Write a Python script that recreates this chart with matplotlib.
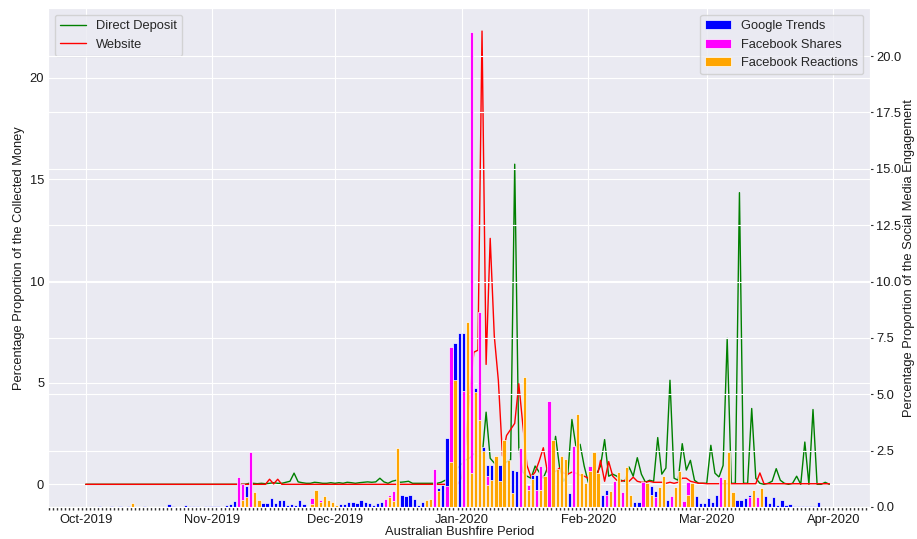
import matplotlib
matplotlib.use("Agg")
import numpy as np
import pandas as pd
import seaborn as sns
import matplotlib.pyplot as plt
import matplotlib.dates as mdates

sns.set_style("darkgrid")
plt.rcParams["font.family"] = ["Liberation Sans", "DejaVu Sans"]

# one value per day, 1 Oct 2019 .. 31 Mar 2020 (one line per month)
dates = pd.date_range("2019-10-01", "2020-03-31", freq="D")

direct_deposit = (
    [0] * 31 +
    [0, 0, 0, 0, 0, 0, 0, 0, 0, .05, .05, .03, .05, .03, .05, .08, .05, .05, .10, .15,
     .55, .12, .08, .05, .05, .10, .08, .05, .05, .08] +
    [.05, .08, .05, .10, .08, .05, .08, .10, .12, .10, .12, .30, .12, .05, .15, .20,
     .10, .12, .15, .05, .05, .05, .05, .05, .05, .05, .10, .20, .30, .50, .80] +
    [1.0, 1.2, 1.3, 1.5, 1.4, 1.3, 3.55, 1.28, 1.05, .80, .90, 1.10, 1.20, 15.75, 1.80,
     .60, .40, .30, .90, .60, .30, .80, .80, 2.36, .80, .15, .50, 3.19, 1.84, 1.97, .90] +
    [.10, .60, .50, .90, 2.20, .40, .50, .40, .20, .15, .85, .40, 1.31, .50, .10, .20,
     .15, 2.30, .50, .80, 5.12, .30, .20, 2.00, .70, 1.18, .20, .05, .05] +
    [.05, 1.92, .55, .36, .93, 7.18, .05, .05, 14.35, .05, .05, 3.73, .30, .05, 0, .05,
     .15, .77, .20, .05, 0, .05, .40, 0, 2.08, 0, 3.68, 0, 0, .10, 0]
)

website = (
    [0] * 31 +
    [0] * 14 + [.25, .02, .25] + [0] * 13 +
    [0] * 31 +
    [.30, 2.00, 4.50, 6.50, 6.60, 22.30, 5.90, 12.10, 7.30, 5.10, 1.40, 2.40, 2.70, 3.00,
     4.95, 2.90, .93, .35, .60, 1.15, 1.80, .60, .50, .64, .80, .55, .50, .60, .55, .45, .40] +
    [.30, .25, .20, 1.18, .15, 1.12, .40, .20, .15, .20, .15, .35, .15, .10, .10, .15,
     .10, .10, .10, .05, .10, .05, .10, .30, .30, .15, .10, .05, .05] +
    [.03] * 13 + [.56] + [.03] * 17
)

google_trends = (
    [0, 0, 0, .05, 0, 0, .05, 0, .05, 0, .05, 0, 0, 0, .05, 0, 0, 0, 0, 0, .12, .06, 0,
     0, .10, .05, .06, .05, 0, .05, .05] +
    [.05, .05, 0, .08, .15, .25, 0, 0, .95, 0, 0, 0, .18, .18, .40, .18, .33, .33, .10,
     .12, .10, .33, .15, 0, 0, 0, 0, 0, 0, 0] +
    [0, .12, .12, .24, .24, .18, .33, .24, .18, .10, .18, .24, 0, 0, 0, 0, .55, .47, .55,
     .37, .10, .24, .16, 0, 0, .86, .96, 3.05, 0, 7.26, 7.70] +
    [7.70, 0, 0, 5.28, 0, 2.64, 1.88, 1.88, 0, 1.88, 0, 0, 1.65, 1.58, 0, 0, 0, 1.40,
     1.40, 0, 0, 0, 0, 0, 0, 0, .62, 0, 0, 0, 0] +
    [0, 0, 0, .55, .74, 0, 0, 0, 0, 0, 0, .22, .22, 0, 0, .94, .72, 0, 0, .30, 0, 0, 0,
     .22, 0, 0, .50, .17, .17] +
    [.39, .24, .53, 0, 0, 0, 0, .30, .30, .39, .53, 0, 0, 0, .50, .17, .44, .10, .30,
     .08, .14, .06, .06, .04, .04, .04, .04, .24, 0, 0, 0]
)

facebook_shares = (
    [0] * 31 +
    [0, 0, 0, 0, 0, 0, 1.32, 1.03, 0, 2.46] + [0] * 10 +
    [0, 0, 0, 0, .40, 0, .32, 0, 0, 0] +
    [0] * 10 + [0, 0, .35, .55, .73, 0, 0, 0, 0, 0] +
    [0, 0, .05, 0, 1.67, 0, 0, .93, 7.10, 0, 0] +
    [5.14, 0, 21.06, 0, 8.66, 0, 1.36, 0, 0, 0, 0, 0, 0, 0, 2.62, 0, .99, 0, .77, 1.83,
     0, 4.68, 0, 0, 0, 0, 0, 2.69, 0, 0, 0] +
    [1.80, 0, 0, 0, .55, 0, 1.14, 0, .65, 0, 0, 0, 0, 1.09, 0, 0, .43, 0, 0, 0, .47, 0,
     0, .25, 1.09, 0, 0, 0, 0] +
    [0, 0, 0, 1.32, 0, 0, 0, 0, 0, 0, .44, 0, .46] + [0] * 18
)

facebook_reactions = (
    [0] * 11 + [.16] + [0] * 19 +
    [0, 0, 0, 0, 0, 0, 0, .32, .43, 0, .68, .30, 0, 0, 0, 0, 0, 0, 0, 0,
     0, 0, 0, 0, .15, .75, .20, .50, .30, .22] +
    [.10, 0, 0, 0, 0, 0, 0, 0, 0, 0, 0, 0, 0, .45, .27, 2.63, 0, 0, 0, 0,
     0, 0, .30, .34, 0, .71, 0, 0, 2.00, 5.63, 0] +
    [0, 8.20, 1.52, 5.08, 3.87, 2.47, .99, 1.21, 2.27, 1.14, 2.95, 2.10, .62, 0, 0,
     5.77, .77, 1.24, 0, .77, 1.39, 0, 2.98, 1.68, 2.27, 2.12, 0, 0, 4.14, 1.50, 1.05] +
    [1.58, 2.44, 1.50, 0, 0, .69, 0, 1.53, 0, 1.76, .53, 0, 0, 0, 1.07, .55, 0, .89,
     1.39, 0, 0, .89, 1.58, 0, .55, 1.06, 0, 0, 0] +
    [0, 0, 0, 0, 1.26, 2.43, .65, 0, 0, 0, 0, .74, 0, .84] + [0] * 17
)

fig = plt.figure(figsize=(9.17, 5.39), dpi=100)
ax = fig.add_axes([0.0527, 0.0594, 0.896, 0.925])

ax.plot(dates, direct_deposit, color="green", lw=1, label="Direct Deposit")
ax.plot(dates, website, color="red", lw=1, label="Website")
ax.set_xlabel("Australian Bushfire Period", fontsize=9.3, color="0.1", labelpad=0.5)
ax.set_ylabel("Percentage Proportion of the Collected Money", fontsize=9.3,
              color="0.1", labelpad=3.5)
ax.legend(loc="upper left", fontsize=9.3)

# bars go on the twin axis, drawn over the lines
ax2 = ax.twinx()
ax2.bar(dates, google_trends, width=0.8, align="edge", color="blue",
        edgecolor="white", linewidth=0.5, label="Google Trends")
ax2.bar(dates, facebook_shares, width=0.8, align="edge", color="magenta",
        edgecolor="white", linewidth=0.5, label="Facebook Shares")
ax2.bar(dates, facebook_reactions, width=0.8, align="edge", color="orange",
        edgecolor="white", linewidth=0.5, label="Facebook Reactions")
ax2.set_ylabel("Percentage Proportion of the Social Media Engagement", fontsize=9.3,
               color="0.1", labelpad=1)
ax2.legend(loc="upper right", fontsize=9.3)

ax.xaxis.set_major_locator(mdates.MonthLocator())
ax.xaxis.set_major_formatter(mdates.DateFormatter("%b-%Y"))
ax.xaxis.set_minor_locator(mdates.DayLocator())
ax.tick_params(axis="x", which="both", bottom=True, length=2.2, width=1,
               color="0.2", labelsize=9.3, labelcolor="0.1", pad=2.5)
ax.tick_params(axis="y", length=0, pad=3, labelsize=9.3, labelcolor="0.1")
ax2.tick_params(axis="y", right=True, length=2.5, width=0.8, color="0.2", pad=2,
                labelsize=9.3, labelcolor="0.1")

fig.savefig("out.png", dpi=100)
